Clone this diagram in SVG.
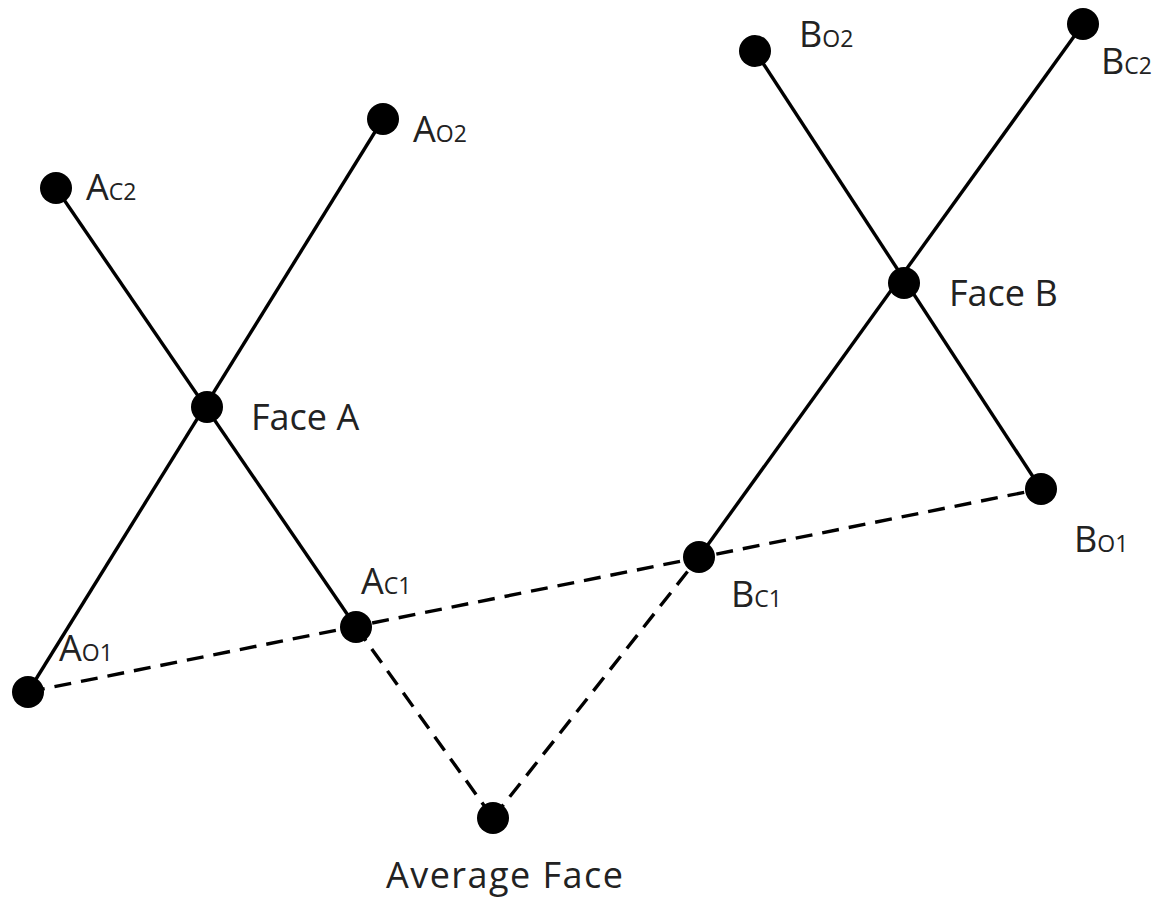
<svg xmlns="http://www.w3.org/2000/svg" width="1160" height="914" viewBox="0 0 1160 914">
<style>
.bg{fill:#fff}
.solid{stroke:#000;stroke-width:3.4;fill:none}
.dash{stroke:#000;stroke-width:3.4;fill:none;stroke-dasharray:17 10}
.dot{fill:#000}
text{font-family:"Open Sans","Liberation Sans",sans-serif;font-size:36px;fill:#222}
.sub{font-size:23px}
</style>
<rect class="bg" x="0" y="0" width="1160" height="914"/>
<g id="connectors">
<line class="solid" x1="56" y1="188" x2="356" y2="627"/>
<line class="solid" x1="28" y1="692" x2="383" y2="119"/>
<line class="solid" x1="755" y1="51" x2="1041" y2="489"/>
<line class="solid" x1="699" y1="557" x2="1083" y2="24"/>
<line class="dash" x1="28" y1="692" x2="1041" y2="489"/>
<line class="dash" x1="356" y1="627" x2="493" y2="818"/>
<line class="dash" x1="493" y1="818" x2="699" y2="557"/>
</g>
<g id="Ac2"><circle class="dot" cx="56" cy="188" r="16"/><text x="86" y="200">A<tspan class="sub">C2</tspan></text></g>
<g id="Ao2"><circle class="dot" cx="383" cy="119" r="16"/><text x="413" y="142">A<tspan class="sub">O2</tspan></text></g>
<g id="FaceA"><circle class="dot" cx="207" cy="407" r="16"/><text x="251" y="430">Face A</text></g>
<g id="Ac1"><circle class="dot" cx="356" cy="627" r="16"/><text x="361" y="594">A<tspan class="sub">C1</tspan></text></g>
<g id="Ao1"><circle class="dot" cx="28" cy="692" r="16"/><text x="59" y="661">A<tspan class="sub">O1</tspan></text></g>
<g id="Average"><circle class="dot" cx="493" cy="818" r="16"/><text x="386" y="888" textLength="237">Average Face</text></g>
<g id="Bc1"><circle class="dot" cx="699" cy="557" r="16"/><text x="731" y="607">B<tspan class="sub">C1</tspan></text></g>
<g id="Bo1"><circle class="dot" cx="1041" cy="489" r="16"/><text x="1074" y="552">B<tspan class="sub">O1</tspan></text></g>
<g id="FaceB"><circle class="dot" cx="904" cy="283" r="16"/><text x="949" y="306">Face B</text></g>
<g id="Bo2"><circle class="dot" cx="755" cy="51" r="16"/><text x="799" y="47">B<tspan class="sub">O2</tspan></text></g>
<g id="Bc2"><circle class="dot" cx="1083" cy="24" r="16"/><text x="1101" y="74">B<tspan class="sub">C2</tspan></text></g>
</svg>
